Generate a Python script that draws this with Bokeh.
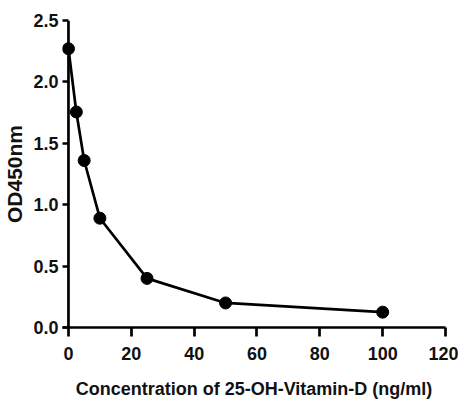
from bokeh.plotting import figure
from bokeh.models import Range1d, FixedTicker, NumeralTickFormatter, ColumnDataSource, Span
from bokeh.embed import file_html
from bokeh.resources import INLINE

# Data
concentration = [0, 2.5, 5, 10, 25, 50, 100]
od450 = [2.27, 1.755, 1.36, 0.89, 0.40, 0.20, 0.125]
x_ticks = [0, 20, 40, 60, 80, 100, 120]
y_ticks = [0.0, 0.5, 1.0, 1.5, 2.0, 2.5]

src = ColumnDataSource(dict(x=concentration, y=od450))

p = figure(width=458, height=403, output_backend="svg", toolbar_location=None,
           x_range=Range1d(-1.9, 120), y_range=Range1d(0, 2.5),
           min_border_left=61, min_border_top=20, min_border_right=13, min_border_bottom=76)

p.line("x", "y", source=src, line_color="black", line_width=2.7)
p.scatter("x", "y", source=src, size=12, fill_color="black", line_color="black")

# y axis line drawn at x = 0
p.add_layout(Span(location=0, dimension="height", line_color="black", line_width=2.7, level="overlay"))

p.xgrid.visible = False
p.ygrid.visible = False
p.outline_line_color = None
p.background_fill_color = "white"

font = "Liberation Sans"
for ax in (p.xaxis[0], p.yaxis[0]):
    ax.axis_line_width = 2.7
    ax.axis_line_color = "black"
    ax.major_tick_line_width = 2.7
    ax.major_tick_line_color = "black"
    ax.minor_tick_line_color = None
    ax.major_label_text_font = font
    ax.major_label_text_font_style = "bold"
    ax.major_label_text_font_size = "18px"
    ax.major_label_text_color = "#111111"
    ax.axis_label_text_font = font
    ax.axis_label_text_font_style = "bold"
    ax.axis_label_text_color = "#111111"

p.xaxis[0].ticker = FixedTicker(ticks=x_ticks)
p.xaxis[0].major_tick_in = 0
p.xaxis[0].major_tick_out = 9
p.xaxis[0].major_label_standoff = 10
p.xaxis[0].axis_label = "Concentration of 25-OH-Vitamin-D (ng/ml)"
p.xaxis[0].axis_label_text_font_size = "18px"
p.xaxis[0].axis_label_standoff = 16

p.yaxis[0].ticker = FixedTicker(ticks=y_ticks)
p.yaxis[0].formatter = NumeralTickFormatter(format="0.0")
p.yaxis[0].axis_line_color = None
p.yaxis[0].major_tick_in = 6
p.yaxis[0].major_tick_out = 0
p.yaxis[0].major_label_standoff = 4
p.yaxis[0].axis_label = "OD450nm"
p.yaxis[0].axis_label_text_font_size = "21px"
p.yaxis[0].axis_label_standoff = 4

open("out.html", "w").write(file_html(p, INLINE))
